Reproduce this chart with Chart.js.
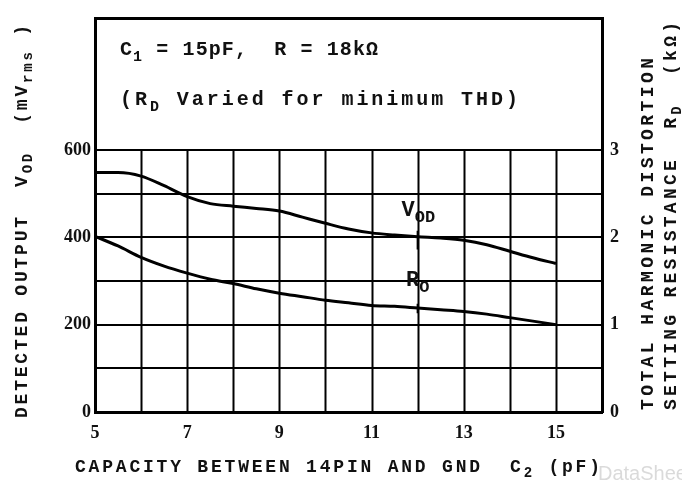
<!DOCTYPE html>
<html>
<head>
<meta charset="utf-8">
<script src="https://cdn.jsdelivr.net/npm/chart.js@4.4.1/dist/chart.umd.min.js"></script>
<style>
html,body{margin:0;padding:0;background:#fff;}
#wrap{width:682px;height:482px;position:relative;}
</style>
</head>
<body>
<div id="wrap"><canvas id="c" width="682" height="482"></canvas></div>
<script>
// ---- data ----
const capacityPF = [5,5.5,6,6.5,7,7.5,8,8.5,9,9.5,10,10.5,11,11.5,12,12.5,13,13.5,14,14.5,15];
const vodMv = [548,548,540,518,493,477,471,466,460,446,432,419,410,405,401,398,393,383,368,353,340];
const rdKohm = [2.01,1.90,1.77,1.67,1.59,1.52,1.47,1.41,1.36,1.32,1.28,1.25,1.22,1.21,1.19,1.17,1.15,1.12,1.08,1.04,1.00];
const xTickLabels = [5,7,9,11,13,15];
const yLeftTickLabels = [0,200,400,600];
const yRightTickLabels = [0,1,2,3];
const gridTop = 600;

const MONO = "'Liberation Mono', 'DejaVu Sans Mono', monospace";

function drawRich(ctx, segs, x, y, size, targetLen, rotate) {
  ctx.save();
  ctx.translate(x, y);
  if (rotate) ctx.rotate(-Math.PI / 2);
  ctx.fillStyle = '#111';
  ctx.textBaseline = 'alphabetic';
  ctx.textAlign = 'left';
  const subSize = Math.round(size * 0.75);
  let nat = 0, n = 0;
  for (const [t, sub] of segs) {
    ctx.font = 'bold ' + (sub ? subSize : size) + 'px ' + MONO;
    for (const ch of t) { nat += ctx.measureText(ch).width; n++; }
  }
  const sp = targetLen ? (targetLen - nat) / Math.max(1, n - 1) : 0;
  let cx = 0;
  for (const [t, sub] of segs) {
    ctx.font = 'bold ' + (sub ? subSize : size) + 'px ' + MONO;
    for (const ch of t) {
      ctx.fillText(ch, cx, sub ? size * 0.28 : 0);
      cx += ctx.measureText(ch).width + sp;
    }
  }
  ctx.restore();
}

const frameAndText = {
  id: 'frameAndText',
  beforeDatasetsDraw(chart) {
    const {ctx, scales} = chart;
    const x = scales.x, y = scales.y;
    ctx.save();
    ctx.strokeStyle = '#000';
    ctx.lineWidth = 2;
    for (const t of x.ticks) {
      if (t.value <= x.min || t.value >= x.max) continue;
      const px = Math.round(x.getPixelForValue(t.value)) + 0.5;
      ctx.beginPath();
      ctx.moveTo(px, y.getPixelForValue(0));
      ctx.lineTo(px, y.getPixelForValue(gridTop));
      ctx.stroke();
    }
    ctx.restore();
  },
  afterDraw(chart) {
    const {ctx, scales} = chart;
    const x = scales.x, y = scales.y, y2 = scales.y2;
    ctx.save();
    ctx.strokeStyle = '#000';
    ctx.lineWidth = 2;
    const xm = x.getPixelForValue(12);
    ctx.beginPath();
    ctx.moveTo(xm, y.getPixelForValue(415));
    ctx.lineTo(xm, y.getPixelForValue(372));
    ctx.moveTo(xm, y2.getPixelForValue(1.24));
    ctx.lineTo(xm, y2.getPixelForValue(1.13));
    ctx.stroke();
    ctx.restore();
    // curve labels
    drawRich(ctx, [['V', false], ['OD', true]], x.getPixelForValue(11.65), y.getPixelForValue(448), 22, 0, false);
    drawRich(ctx, [['R', false], ['O', true]], x.getPixelForValue(11.75), y.getPixelForValue(288), 22, 0, false);
    // box text
    drawRich(ctx, [['C', false], ['1', true], [' = 15pF,  R = 18k\u03A9', false]], 120, 55, 20, 258, false);
    drawRich(ctx, [['(R', false], ['D', true], [' Varied for minimum THD)', false]], 120, 105, 20, 398, false);
    // axis titles
    drawRich(ctx, [['DETECTED OUTPUT  V', false], ['OD', true], ['  (mV', false], ['rms', true], [' )', false]], 27, 418, 18, 393, true);
    drawRich(ctx, [['TOTAL HARMONIC DISTORTION', false]], 653, 410, 18, 352, true);
    drawRich(ctx, [['SETTING RESISTANCE  R', false], ['D', true], ['  (k\u03A9)', false]], 676, 410, 18, 388, true);
    drawRich(ctx, [['CAPACITY BETWEEN 14PIN AND GND  C', false], ['2', true], [' (pF)', false]], 75, 472, 18, 525, false);
    // faint watermark
    ctx.save();
    ctx.fillStyle = 'rgba(150,150,150,0.35)';
    ctx.font = '20px "Liberation Sans", sans-serif';
    ctx.fillText('DataSheet4U', 598, 480);
    ctx.restore();
  }
};

new Chart(document.getElementById('c'), {
  type: 'line',
  data: {
    datasets: [
      {
        label: 'VOD',
        data: capacityPF.map((v, i) => ({x: v, y: vodMv[i]})),
        yAxisID: 'y',
        borderColor: '#000',
        borderWidth: 3,
        pointRadius: 0,
        cubicInterpolationMode: 'monotone'
      },
      {
        label: 'RO',
        data: capacityPF.map((v, i) => ({x: v, y: rdKohm[i]})),
        yAxisID: 'y2',
        borderColor: '#000',
        borderWidth: 3,
        pointRadius: 0,
        cubicInterpolationMode: 'monotone'
      }
    ]
  },
  options: {
    responsive: false,
    animation: false,
    layout: {padding: {top: 12, left: 0, right: 0, bottom: 0}},
    plugins: {legend: {display: false}, tooltip: {enabled: false}},
    scales: {
      x: {
        type: 'linear', position: 'bottom', min: 5, max: 16,
        grid: {display: false, drawTicks: false},
        border: {display: true, width: 3, color: '#000'},
        ticks: {
          stepSize: 1, autoSkip: false, maxRotation: 0, padding: 11, color: '#111',
          font: {family: "'Liberation Serif', serif", size: 18, weight: 'bold'},
          callback: v => xTickLabels.includes(v) ? String(v) : ''
        },
        afterFit: s => { s.height = 70; }
      },
      x2: {
        type: 'linear', position: 'top', min: 5, max: 16,
        grid: {display: false, drawTicks: false},
        border: {display: true, width: 3, color: '#000'},
        ticks: {display: false},
        afterFit: s => { s.height = 0; }
      },
      y: {
        type: 'linear', position: 'left', min: 0, max: 900,
        grid: {
          drawTicks: false, lineWidth: 2,
          color: c => (c.tick && c.tick.value > 0 && c.tick.value <= gridTop) ? '#000' : 'rgba(0,0,0,0)'
        },
        border: {display: true, width: 3, color: '#000'},
        ticks: {
          stepSize: 100, autoSkip: false, padding: 4, color: '#111',
          font: {family: "'Liberation Serif', serif", size: 18, weight: 'bold'},
          callback: v => yLeftTickLabels.includes(v) ? String(v) : ''
        },
        afterFit: s => { s.width = 95; }
      },
      y2: {
        type: 'linear', position: 'right', min: 0, max: 4.5,
        grid: {display: false, drawTicks: false},
        border: {display: true, width: 3, color: '#000'},
        ticks: {
          stepSize: 0.5, autoSkip: false, padding: 8, color: '#111',
          font: {family: "'Liberation Serif', serif", size: 18, weight: 'bold'},
          callback: v => yRightTickLabels.includes(v) ? String(v) : ''
        },
        afterFit: s => { s.width = 80; }
      }
    }
  },
  plugins: [frameAndText]
});
</script>
</body>
</html>
